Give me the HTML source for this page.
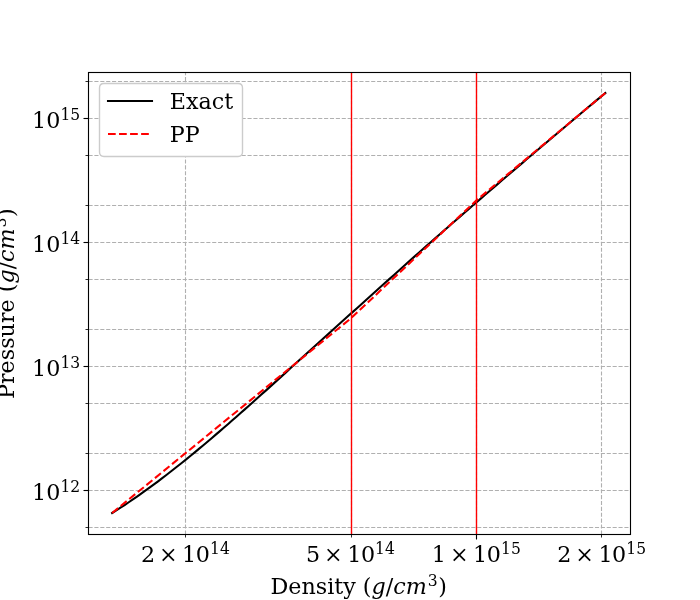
<!DOCTYPE html>
<html lang="en"><head><meta charset="utf-8"><title>Pressure vs Density</title>
<style>html,body{margin:0;padding:0;background:#fff;width:700px;height:600px;overflow:hidden}</style></head>
<body>
<svg width="700" height="600" viewBox="0 0 700 600" style="will-change:transform;display:block;position:absolute;left:0;top:0" font-family="'DejaVu Serif', 'Liberation Serif', serif" fill="#000">
<rect x="0" y="0" width="700" height="600" fill="#fff"/>
<clipPath id="ax"><rect x="87.5" y="72" width="542.5" height="462"/></clipPath>
<g stroke="#b0b0b0" stroke-width="1.111" stroke-dasharray="4.111 1.778" fill="none" clip-path="url(#ax)">
<path d="M185.5 534.5L185.5004 72.5"/>
<path d="M351.5 534.5L351.5004 72.5"/>
<path d="M476.5 534.5L476.5004 72.5"/>
<path d="M601.5 534.5L601.5004 72.5"/>
<path d="M88.5 81.5L630.5 81.5004"/>
<path d="M88.5 118.5L630.5 118.5004"/>
<path d="M88.5 155.5L630.5 155.5004"/>
<path d="M88.5 205.5L630.5 205.5004"/>
<path d="M88.5 242.5L630.5 242.5004"/>
<path d="M88.5 279.5L630.5 279.5004"/>
<path d="M88.5 329.5L630.5 329.5004"/>
<path d="M88.5 366.5L630.5 366.5004"/>
<path d="M88.5 403.5L630.5 403.5004"/>
<path d="M88.5 453.5L630.5 453.5004"/>
<path d="M88.5 490.5L630.5 490.5004"/>
<path d="M88.5 527.5L630.5 527.5004"/>
</g>
<g stroke="#000" fill="none">
<g stroke-width="1.111">
<path d="M83.5 118.5H88.5"/>
<path d="M83.5 242.5H88.5"/>
<path d="M83.5 366.5H88.5"/>
<path d="M83.5 490.5H88.5"/>
<path d="M476.5 534.5V539.5"/>
</g>
<g stroke-width="0.833">
<path d="M85.5 81.5H88.5"/>
<path d="M85.5 155.5H88.5"/>
<path d="M85.5 205.5H88.5"/>
<path d="M85.5 279.5H88.5"/>
<path d="M85.5 329.5H88.5"/>
<path d="M85.5 403.5H88.5"/>
<path d="M85.5 453.5H88.5"/>
<path d="M85.5 527.5H88.5"/>
<path d="M185.5 534.5V537.5"/>
<path d="M351.5 534.5V537.5"/>
<path d="M601.5 534.5V537.5"/>
</g></g>
<g fill="none" clip-path="url(#ax)">
<path d="M112.16 513.001 L116.304 510.393 L120.449 507.731 L124.593 505.015 L128.737 502.248 L132.882 499.431 L137.026 496.565 L141.171 493.651 L145.315 490.691 L149.459 487.686 L153.604 484.638 L157.748 481.547 L161.892 478.416 L166.037 475.246 L170.181 472.038 L174.326 468.794 L178.47 465.515 L182.614 462.202 L186.759 458.856 L190.903 455.48 L195.047 452.075 L199.192 448.641 L203.336 445.18 L207.481 441.695 L211.625 438.185 L215.769 434.653 L219.914 431.098 L224.058 427.524 L228.202 423.929 L232.347 420.316 L236.491 416.685 L240.635 413.037 L244.78 409.374 L248.924 405.697 L253.069 402.005 L257.213 398.301 L261.357 394.586 L265.502 390.86 L269.646 387.124 L273.79 383.38 L277.935 379.629 L282.079 375.871 L286.224 372.107 L290.368 368.339 L294.512 364.568 L298.657 360.794 L302.801 357.019 L306.945 353.243 L311.09 349.468 L315.234 345.695 L319.378 341.927 L323.523 338.167 L327.667 334.416 L331.812 330.678 L335.956 326.954 L340.1 323.241 L344.245 319.535 L348.389 315.831 L352.533 312.124 L356.678 308.412 L360.822 304.696 L364.967 300.975 L369.111 297.252 L373.255 293.527 L377.4 289.801 L381.544 286.075 L385.688 282.35 L389.833 278.627 L393.977 274.907 L398.122 271.191 L402.266 267.48 L406.41 263.774 L410.555 260.076 L414.699 256.385 L418.843 252.702 L422.988 249.029 L427.132 245.366 L431.276 241.712 L435.421 238.066 L439.565 234.428 L443.71 230.799 L447.854 227.176 L451.998 223.56 L456.143 219.951 L460.287 216.348 L464.431 212.75 L468.576 209.157 L472.72 205.568 L476.865 201.984 L481.009 198.404 L485.153 194.828 L489.298 191.256 L493.442 187.689 L497.586 184.125 L501.731 180.566 L505.875 177.011 L510.019 173.46 L514.164 169.914 L518.308 166.371 L522.453 162.833 L526.597 159.3 L530.741 155.77 L534.886 152.245 L539.03 148.725 L543.174 145.209 L547.319 141.697 L551.463 138.189 L555.608 134.686 L559.752 131.187 L563.896 127.693 L568.041 124.204 L572.185 120.718 L576.329 117.238 L580.474 113.761 L584.618 110.29 L588.763 106.823 L592.907 103.36 L597.051 99.902 L601.196 96.449 L605.34 93" stroke="#000" stroke-width="2.083" stroke-linejoin="round" stroke-linecap="square"/>
<path d="M112.16 513 L351.25 318 L476.25 200.5 L605.34 93" stroke="#f00" stroke-width="2.083" stroke-linejoin="round" stroke-dasharray="7.708 3.333"/>
<path d="M351.5 534.5V72.5M476.5 534.5V72.5" stroke="#f00" stroke-width="1.389"/>
</g>
<rect x="88.5" y="72.5" width="542" height="462" fill="none" stroke="#000" stroke-width="1.111" stroke-linejoin="miter"/>
<path d="M103.944 83.5H238.056Q242.5 83.5 242.5 87.944V152.056Q242.5 156.5 238.056 156.5H103.944Q99.5 156.5 99.5 152.056V87.944Q99.5 83.5 103.944 83.5Z" fill="#fff" stroke="#ccc" stroke-width="1.389"/>
<path d="M108 101H152" stroke="#000" stroke-width="2.083" stroke-linecap="square"/>
<path d="M108 134L152 134.0004" stroke="#f00" stroke-width="2.083" stroke-dasharray="7.708 3.333"/>
<text x="169.822" y="108.885" font-size="22.222">Exact</text>
<text x="169.822" y="141.503" font-size="22.222">PP</text>
<g><text font-size="22.222" x="140.889 159.042 182.076 195.814" y="561.901">2×10</text><text font-size="15.556" transform="translate(0 553.819) scale(1 1.09)" x="210.055 219.952" y="0">14</text></g>
<g><text font-size="22.222" x="305.951 324.104 347.138 360.877" y="561.901">5×10</text><text font-size="15.556" transform="translate(0 553.819) scale(1 1.09)" x="375.117 385.014" y="0">14</text></g>
<g><text font-size="22.222" x="431.87 450.023 473.057 486.796" y="561.901">1×10</text><text font-size="15.556" transform="translate(0 553.819) scale(1 1.09)" x="501.036 510.933" y="0">15</text></g>
<g><text font-size="22.222" x="557.189 575.342 598.376 612.114" y="561.901">2×10</text><text font-size="15.556" transform="translate(0 553.819) scale(1 1.09)" x="626.355 636.252" y="0">15</text></g>
<g><text font-size="22.222" x="32.003 46.141" y="500.236">10</text><text font-size="15.556" transform="translate(0 492.155) scale(1 1.09)" x="60.482 70.379" y="0">12</text></g>
<g><text font-size="22.222" x="32.003 46.141" y="376.236">10</text><text font-size="15.556" transform="translate(0 368.155) scale(1 1.09)" x="60.482 70.379" y="0">13</text></g>
<g><text font-size="22.222" x="32.003 46.141" y="252.236">10</text><text font-size="15.556" transform="translate(0 244.155) scale(1 1.09)" x="60.482 70.379" y="0">14</text></g>
<g><text font-size="22.222" x="32.003 46.141" y="128.236">10</text><text font-size="15.556" transform="translate(0 120.155) scale(1 1.09)" x="60.482 70.379" y="0">15</text></g>
<g transform="translate(270.528 595.062)"><text font-size="22.222"><tspan x="0 17.817 30.968 45.28 56.684 63.791 72.721 85.276 92.339" y="-1.207">Density (</tspan><tspan font-style="italic" x="101.009" y="-1.207">g</tspan><tspan x="115.234" y="-1.207">/</tspan><tspan font-style="italic" x="122.721 135.167" y="-1.207">cm</tspan></text><text font-size="15.556" transform="translate(0 -9.288) scale(1 1.09)" x="157.225" y="0">3</text><text font-size="22.222" x="167.699" y="-1.207">)</text></g>
<g transform="translate(15.636 398.944) rotate(-90)"><text font-size="22.222"><tspan x="0 14.952 25.575 38.726 50.13 61.534 75.846 86.469 99.62 106.684" y="-1.207">Pressure (</tspan><tspan font-style="italic" x="115.354" y="-1.207">g</tspan><tspan x="129.579" y="-1.207">/</tspan><tspan font-style="italic" x="137.066 149.512" y="-1.207">cm</tspan></text><text font-size="15.556" transform="translate(0 -9.288) scale(1 1.09)" x="171.569" y="0">3</text><text font-size="22.222" x="182.043" y="-1.207">)</text></g>
</svg>
</body></html>
